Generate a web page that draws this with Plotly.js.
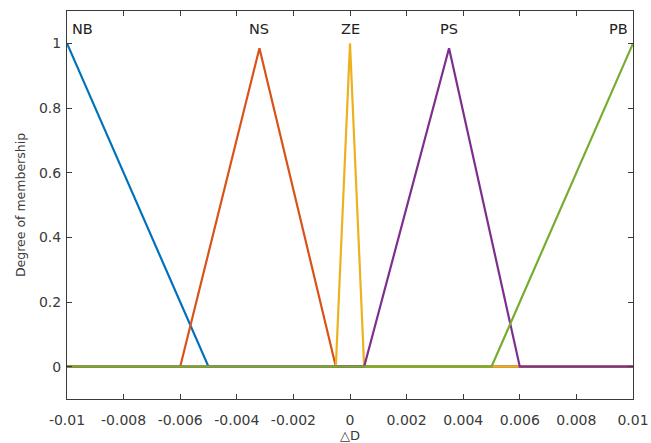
<!DOCTYPE html>
<html>
<head>
<meta charset="utf-8">
<script src="https://cdn.plot.ly/plotly-3.0.1.min.js"></script>
<style>html,body{margin:0;padding:0;background:#fff;}#chart{width:651px;height:443px;}</style>
</head>
<body>
<div id="chart"></div>
<script>
// Membership functions (x breakpoints and degrees)
const nbX = [-0.01, -0.005, 0.01];
const nbY = [1, 0, 0];
const nsX = [-0.01, -0.006, -0.0032, -0.0005, 0.01];
const nsY = [0, 0, 0.985, 0, 0];
const zeX = [-0.01, -0.0005, 0, 0.0005, 0.01];
const zeY = [0, 0, 1, 0, 0];
const psX = [-0.01, 0.0005, 0.0035, 0.006, 0.01];
const psY = [0, 0, 0.985, 0, 0];
const pbX = [-0.01, 0.005, 0.01];
const pbY = [0, 0, 1];

const labels = ["NB", "NS", "ZE", "PS", "PB"];
const labelX = [-0.0099, -0.0032, 0, 0.0035, 0.0099];
const labelY = [1.045, 1.045, 1.045, 1.045, 1.045];
const labelAnchor = ["left", "center", "center", "center", "right"];

const xTicks = [-0.01, -0.008, -0.006, -0.004, -0.002, 0, 0.002, 0.004, 0.006, 0.008, 0.01];
const xTickText = ["-0.01", "-0.008", "-0.006", "-0.004", "-0.002", "0", "0.002", "0.004", "0.006", "0.008", "0.01"];
const yTicks = [0, 0.2, 0.4, 0.6, 0.8, 1];
const yTickText = ["0", "0.2", "0.4", "0.6", "0.8", "1"];

const colors = ["#0072BD", "#D95319", "#EDB120", "#7E2F8E", "#77AC30"];
const series = [[nbX, nbY], [nsX, nsY], [zeX, zeY], [psX, psY], [pbX, pbY]];

const FONT = "DejaVu Sans, Arial, sans-serif";

const traces = series.map((s, i) => ({
  x: s[0], y: s[1], type: "scatter", mode: "lines",
  line: {color: colors[i], width: 2.2}, name: labels[i], hoverinfo: "skip"
}));

const annotations = labels.map((t, i) => ({
  x: labelX[i], y: labelY[i], xref: "x", yref: "y", text: t, showarrow: false,
  xanchor: labelAnchor[i], yanchor: "middle",
  font: {family: FONT, size: 14.5, color: "#222"}
}));

const axisCommon = {
  showgrid: false, zeroline: false, showline: true, mirror: "ticks",
  linecolor: "#3a3a3a", linewidth: 1, ticks: "inside", ticklen: 5, tickcolor: "#3a3a3a",
  tickfont: {family: FONT, size: 14, color: "#3a3a3a"}
};

const layout = {
  width: 651, height: 443,
  margin: {l: 67, r: 18, t: 11, b: 44},
  paper_bgcolor: "#fff", plot_bgcolor: "#fff",
  showlegend: false,
  xaxis: Object.assign({}, axisCommon, {
    range: [-0.01, 0.01], tickvals: xTicks, ticktext: xTickText,
    ticklabelstandoff: 8,
    title: {text: "△D", standoff: 3, font: {family: FONT, size: 13, color: "#3a3a3a"}}
  }),
  yaxis: Object.assign({}, axisCommon, {
    range: [-0.1, 1.1], tickvals: yTicks, ticktext: yTickText,
    ticklabelstandoff: 2,
    title: {text: "Degree of membership", standoff: 10, font: {family: FONT, size: 12.5, color: "#3a3a3a"}}
  }),
  annotations: annotations
};

Plotly.newPlot("chart", traces, layout, {staticPlot: true, displayModeBar: false});
</script>
</body>
</html>
